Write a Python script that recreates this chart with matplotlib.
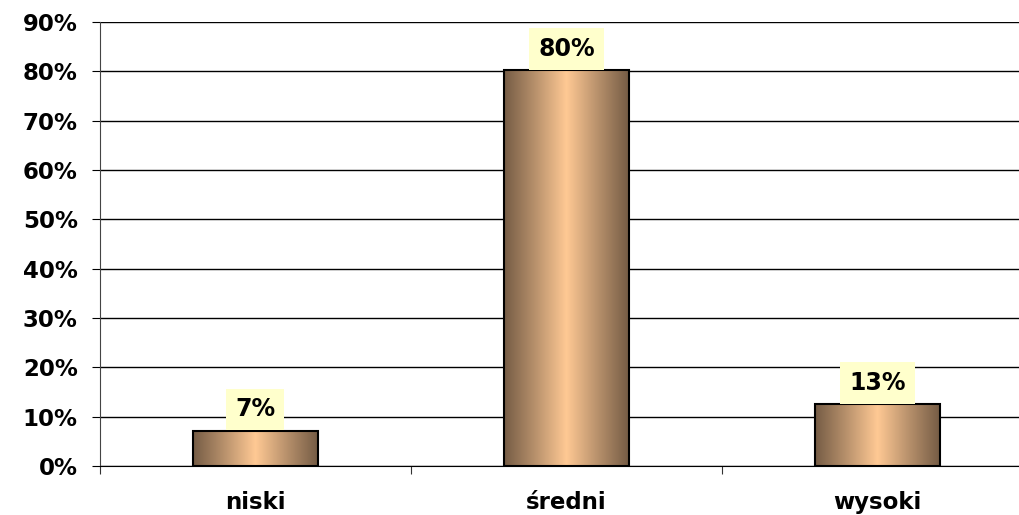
import matplotlib.pyplot as plt
import numpy as np
from matplotlib.colors import LinearSegmentedColormap

categories = ['niski', 'średni', 'wysoki']
values = [7.2, 80.3, 12.6]
labels = ['7%', '80%', '13%']
yticks = [0, 10, 20, 30, 40, 50, 60, 70, 80, 90]

plt.rcParams['font.family'] = 'DejaVu Sans'
plt.rcParams['font.weight'] = 'bold'

fig = plt.figure(figsize=(10.19, 5.15), dpi=100)
ax = fig.add_axes([0.0981, 0.0951, 0.9156, 0.8622])

cmap = LinearSegmentedColormap.from_list(
    'bar', ['#755c45', '#b8916c', '#ffc994', '#b8916c', '#755c45'])
grad = np.linspace(0, 1, 256).reshape(1, -1)

width = 0.4
x = np.arange(len(categories)) + 0.5
ax.set_xlim(0, 3)
ax.set_ylim(0, 90)

for xi, v, lab in zip(x, values, labels):
    bar = ax.bar(xi, v, width, color='none', edgecolor='black', linewidth=1.5, zorder=3)[0]
    im = ax.imshow(grad, cmap=cmap, extent=[xi - width / 2, xi + width / 2, 0, v],
                   aspect='auto', zorder=2)
    im.set_clip_path(bar)
    ax.annotate(lab, (xi, v), xytext=(0, 6.5), textcoords='offset points',
                ha='center', va='bottom', fontsize=17, fontweight='bold',
                bbox=dict(boxstyle='square,pad=0.38', fc='#ffffcc', ec='none'),
                zorder=4)

ax.set_yticks(yticks)
ax.set_yticklabels([f'{t}%' for t in yticks], fontsize=16.5, fontweight='bold')
ax.yaxis.grid(True, color='black', linewidth=1)
ax.set_axisbelow(True)

ax.set_xticks([0, 1, 2, 3])
ax.set_xticklabels([])
ax.set_xticks(x, minor=True)
ax.set_xticklabels(categories, minor=True, fontsize=16.5, fontweight='bold')
ax.tick_params(axis='x', which='minor', length=0, pad=18)
ax.tick_params(axis='x', which='major', length=6, color='#333333')
ax.tick_params(axis='y', length=6, color='black', pad=10)

ax.spines['top'].set_visible(False)
ax.spines['right'].set_visible(False)
ax.spines['left'].set_color('#444444')
ax.spines['bottom'].set_color('black')

fig.savefig('out.png', dpi=100)
